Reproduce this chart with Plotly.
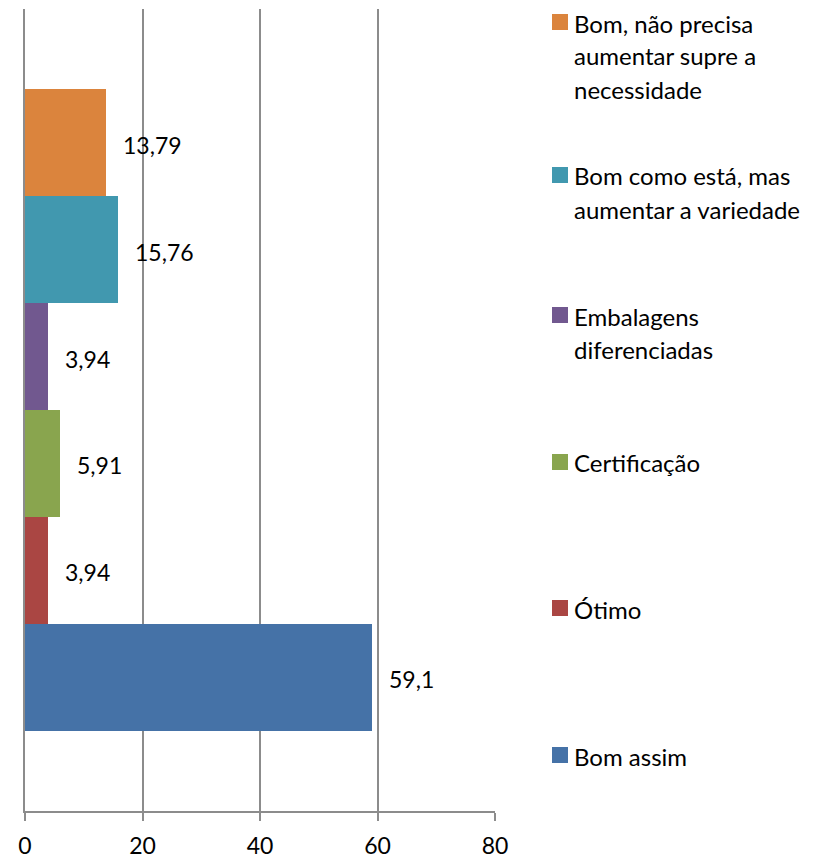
import plotly.graph_objects as go

categories = ["Bom assim", "Ótimo", "Certificação", "Embalagens diferenciadas",
              "Bom como está, mas aumentar a variedade",
              "Bom, não precisa aumentar supre a necessidade"]
legend_lines = [["Bom assim"], ["Ótimo"], ["Certificação"], ["Embalagens", "diferenciadas"],
                ["Bom como está, mas", "aumentar a variedade"],
                ["Bom, não precisa", "aumentar supre a", "necessidade"]]
values = [59.1, 3.94, 5.91, 3.94, 15.76, 13.79]
colors = ["#4572A7", "#AA4643", "#89A54E", "#71588F", "#4198AF", "#DB843D"]
x_ticks = [0, 20, 40, 60, 80]

FONT = "Lato"
FS = 23
TFS = 23
LFS = 24
LINE_H = 33
OFF = 8  # page body margin
W, H = 830 - OFF, 859 - OFF
L, T = 25 - OFF, 9 - OFF
PW, PH = 470, 802
R, B = W - L - PW, H - T - PH

fig = go.Figure()
for i, (c, v, col) in enumerate(zip(categories, values, colors)):
    fig.add_trace(go.Bar(x=[v], y=[i], orientation="h", name=c, width=1.0,
                         marker=dict(color=col, line=dict(width=0)),
                         showlegend=False, hoverinfo="x+name"))
    fig.add_annotation(x=v, y=i, xref="x", yref="y", text=f"{v}".replace(".", ","),
                       showarrow=False, xanchor="left", yanchor="middle", xshift=15, yshift=-2,
                       font=dict(family=FONT, size=FS, color="#000000"))

def px_to_paper_x(px):
    return (px - OFF - L) / PW

def px_to_paper_y(py):
    return (T + PH - (py - OFF)) / PH

# legend (manual, to reproduce spread-out layout)
legend_first_line = [755, 608, 462, 315, 175, 22]
for lines, col, yc in zip(legend_lines, colors, legend_first_line):
    fig.add_shape(type="rect", xref="paper", yref="paper",
                  x0=px_to_paper_x(552), x1=px_to_paper_x(568),
                  y0=px_to_paper_y(yc + 8), y1=px_to_paper_y(yc - 8),
                  fillcolor=col, line=dict(width=0))
    for k, line in enumerate(lines):
        fig.add_annotation(x=px_to_paper_x(572), y=px_to_paper_y(yc + k * LINE_H + 1),
                           xref="paper", yref="paper",
                           text=line, showarrow=False, xanchor="left", yanchor="middle",
                           align="left", font=dict(family=FONT, size=LFS, color="#000000"))

fig.update_layout(
    width=W, height=H, margin=dict(l=L, r=R, t=T, b=B),
    paper_bgcolor="white", plot_bgcolor="white",
    bargap=0, showlegend=False,
    font=dict(family=FONT, size=FS, color="#000000"),
    xaxis=dict(range=[0, 80], tickvals=x_ticks, ticktext=[str(t) for t in x_ticks],
               showgrid=True, gridcolor="#8C8C8C", gridwidth=1.5,
               showline=True, linecolor="#8C8C8C", linewidth=1.5,
               ticks="outside", ticklen=8, tickcolor="#8C8C8C", tickwidth=1.5,
               ticklabelstandoff=6,
               zeroline=False, fixedrange=True, automargin=False,
               tickfont=dict(family=FONT, size=TFS, color="#000000")),
    yaxis=dict(range=[-1.25, 6.25], showticklabels=False, showgrid=False,
               showline=True, linecolor="#8C8C8C", linewidth=1.5,
               zeroline=False, ticks="", fixedrange=True, automargin=False),
)

fig.write_html("out.html")
